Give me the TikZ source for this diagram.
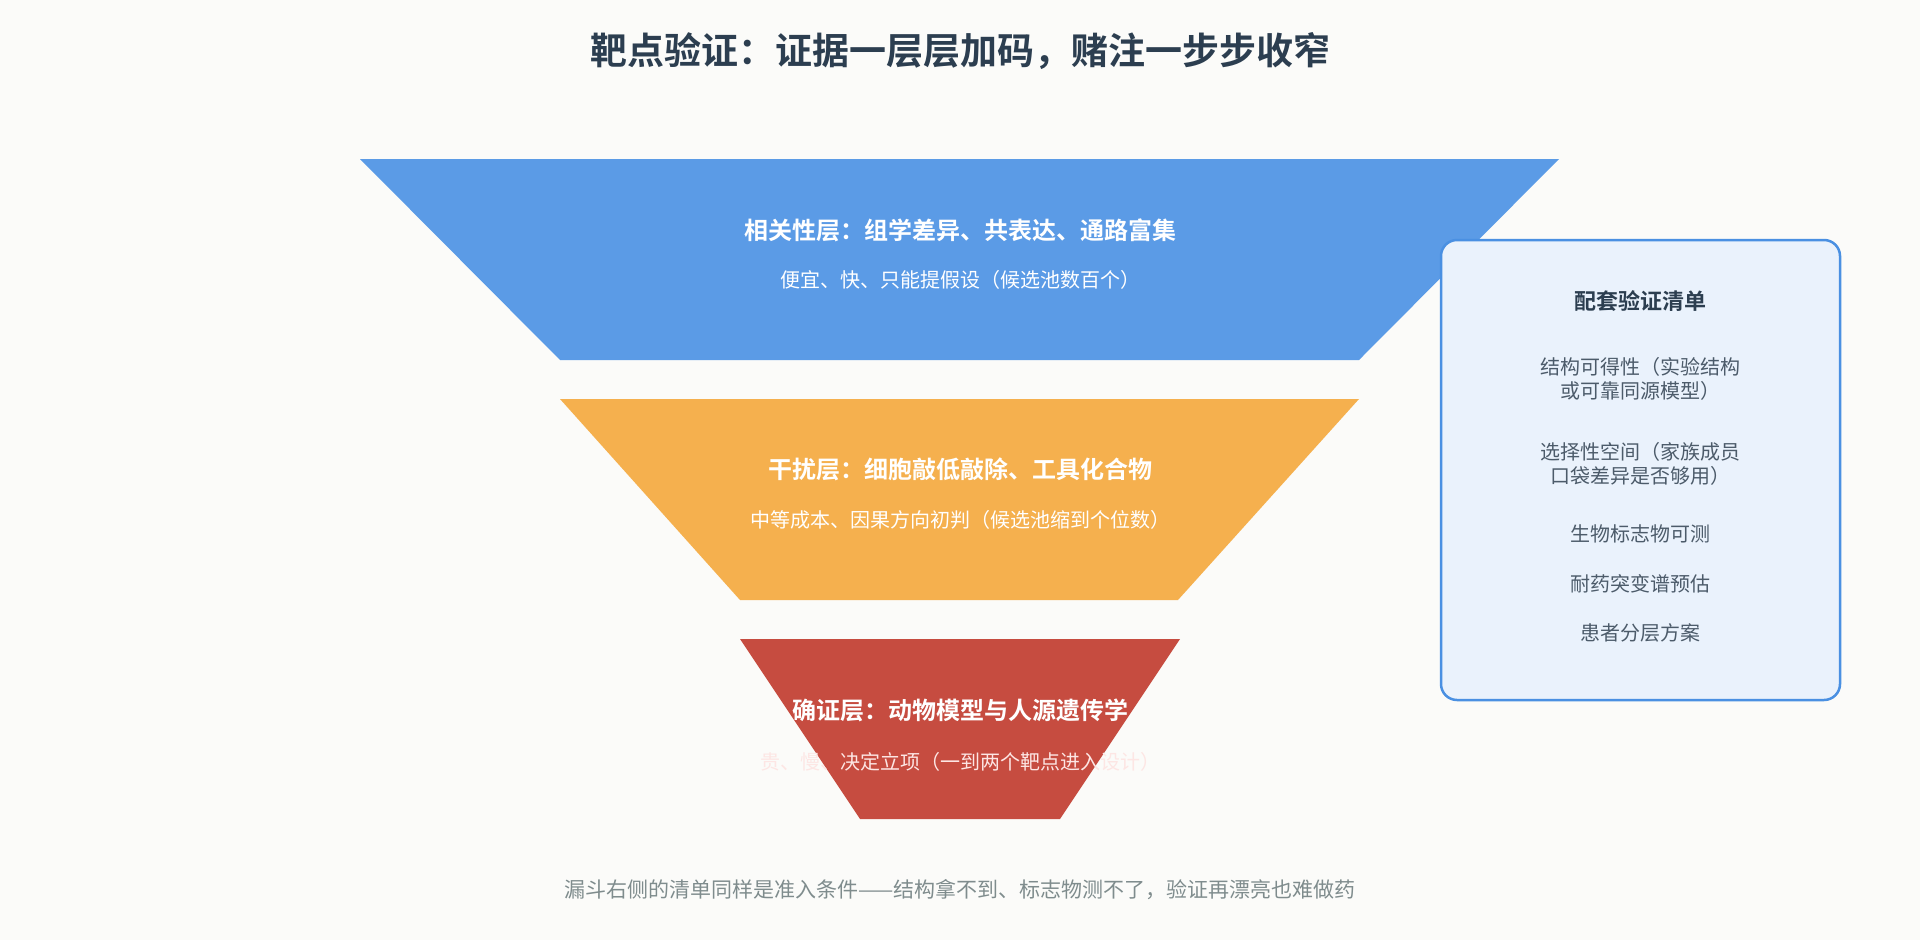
\documentclass[tikz,border=0pt]{standalone}
\usepackage{fontspec}
\setmainfont{Noto Sans CJK SC}[BoldFont={Noto Sans CJK SC Bold}]
\definecolor{bg}{HTML}{FBFBF9}
\definecolor{tblue}{HTML}{5B9BE6}
\definecolor{torange}{HTML}{F5B04E}
\definecolor{tred}{HTML}{C64C40}
\definecolor{ink}{HTML}{2C3E50}
\definecolor{boxline}{HTML}{4A90E2}
\definecolor{boxfill}{HTML}{EAF2FC}
\definecolor{gray1}{HTML}{7F8C8D}
\definecolor{pink}{HTML}{FDE6E4}
\begin{document}
\begin{tikzpicture}[x=1pt,y=-1pt,
  ttl/.style={font=\fontsize{24}{28}\selectfont\bfseries,text=white,anchor=center},
  sub/.style={font=\fontsize{20}{24}\selectfont,text=white,anchor=center},
  item/.style={font=\fontsize{20}{24}\selectfont,text=ink!85,anchor=center,align=center}]
\fill[bg] (0,0) rectangle (1920,940);
\useasboundingbox (0,0) rectangle (1920,940);
\node[font=\fontsize{37}{42}\selectfont\bfseries,text=ink] (title) at (960,51) {靶点验证：证据一层层加码，赌注一步步收窄};
\fill[tblue] (360,159) -- (1559,159) -- (1359,360) -- (560,360) -- cycle;
\fill[torange] (560,399) -- (1359,399) -- (1178,600) -- (740,600) -- cycle;
\fill[tred] (740,639) -- (1180,639) -- (1060,819) -- (860,819) -- cycle;
\node[ttl] (t1) at (960,230) {相关性层：组学差异、共表达、通路富集};
\node[sub] (s1) at (960,280) {便宜、快、只能提假设（候选池数百个）};
\node[ttl] (t2) at (960,469) {干扰层：细胞敲低敲除、工具化合物};
\node[sub] (s2) at (960,520) {中等成本、因果方向初判（候选池缩到个位数）};
\node[ttl] (t3) at (960,710) {确证层：动物模型与人源遗传学};
\node[sub,text=pink] (s3) at (960,762) {贵、慢、决定立项（一到两个靶点进入设计）};
\draw[boxline,fill=boxfill,line width=2.5pt,rounded corners=16pt] (1441,240) rectangle (1840,700);
\node[font=\fontsize{22}{26}\selectfont\bfseries,text=ink] (bt) at (1640,301) {配套验证清单};
\node[item] (i1) at (1640,379) {结构可得性（实验结构\\或可靠同源模型）};
\node[item] (i2) at (1640,464) {选择性空间（家族成员\\口袋差异是否够用）};
\node[item] (i3) at (1640,534) {生物标志物可测};
\node[item] (i4) at (1640,584) {耐药突变谱预估};
\node[item] (i5) at (1640,633) {患者分层方案};
\node[font=\fontsize{21}{25}\selectfont,text=gray1] (foot) at (960,890) {漏斗右侧的清单同样是准入条件——结构拿不到、标志物测不了，验证再漂亮也难做药};
\end{tikzpicture}
\end{document}
